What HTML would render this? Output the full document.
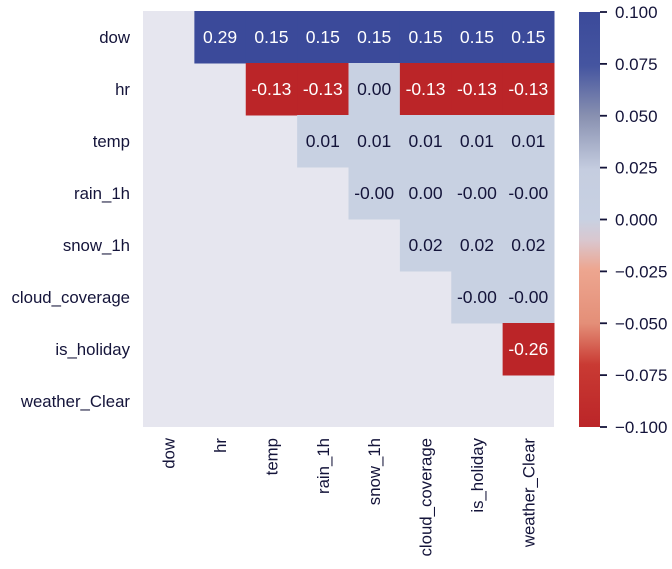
<!DOCTYPE html>
<html><head><meta charset="utf-8"><style>
body{margin:0;background:#fff;font-family:"Liberation Sans",sans-serif;}
svg text{font-family:"Liberation Sans",sans-serif;}
</style></head><body>
<svg id="chart" width="672" height="564" xmlns="http://www.w3.org/2000/svg">
<defs>
<linearGradient id="cbar" x1="0" y1="1" x2="0" y2="0">
<stop offset="0" stop-color="#bb2528"/>
<stop offset="0.15" stop-color="#c93a33"/>
<stop offset="0.25" stop-color="#e48f78"/>
<stop offset="0.38" stop-color="#eda690"/>
<stop offset="0.45" stop-color="#d9c7cf"/>
<stop offset="0.5" stop-color="#c8d1e2"/>
<stop offset="0.62" stop-color="#c5cde0"/>
<stop offset="0.75" stop-color="#8890b0"/>
<stop offset="0.87" stop-color="#4555a0"/>
<stop offset="1" stop-color="#3b4a9a"/>
</linearGradient>
</defs>
<rect x="143" y="11" width="411" height="416" fill="#e6e6ef"/>
<g id="cells"></g>
<g id="ylabels"></g>
<g id="xlabels"></g>
<rect x="579" y="12" width="21" height="415" fill="url(#cbar)"/>
<g id="cbticks"></g>
</svg>
<script>
const labels = ["dow","hr","temp","rain_1h","snow_1h","cloud_coverage","is_holiday","weather_Clear"];
const cellRows = [0,0,0,0,0,0,0, 1,1,1,1,1,1, 2,2,2,2,2, 3,3,3,3, 4,4,4, 5,5, 6];
const cellCols = [1,2,3,4,5,6,7, 2,3,4,5,6,7, 3,4,5,6,7, 4,5,6,7, 5,6,7, 6,7, 7];
const cellVals = [0.29,0.15,0.15,0.15,0.15,0.15,0.15, -0.13,-0.13,0.00,-0.13,-0.13,-0.13, 0.01,0.01,0.01,0.01,0.01, -0.001,0.00,-0.001,-0.001, 0.02,0.02,0.02, -0.001,-0.001, -0.26];
const cbTicks = [0.1,0.075,0.05,0.025,0,-0.025,-0.05,-0.075,-0.1];

const NS="http://www.w3.org/2000/svg";
const x0=143,y0=11,cw=411/8,rh=416/8;
const xPos=i=>x0+i*cw, yPos=i=>y0+i*rh;
const cbY=v=>12+(0.1-v)/0.2*415;
function color(v){
  if(v>=0.075) return "#3b4a9a";
  if(v>=0.05) return "#8890b0";
  if(v>-0.025) return "#c8d1e2";
  if(v>-0.075) return "#e48f78";
  return "#bb2528";
}
function mk(tag,attrs){const e=document.createElementNS(NS,tag);for(const k in attrs)e.setAttribute(k,attrs[k]);return e;}
const cells=document.getElementById('cells');
cellVals.forEach((v,i)=>{
  const r=cellRows[i],c=cellCols[i];
  const rect=mk('rect',{x:xPos(c),y:yPos(r),width:cw+0.5,height:rh+0.5,fill:color(v)});
  
  
  cells.appendChild(rect);
  const t=mk('text',{x:xPos(c)+cw/2,y:yPos(r)+rh/2+6,'text-anchor':'middle','font-size':17.5,fill:(Math.abs(v)>0.05?'#fff':'#14143a')});
  let s=v.toFixed(2); if(v<0&&s==="0.00") s="-0.00";
  t.textContent=s;
  
  
  cells.appendChild(t);
});
const yl=document.getElementById('ylabels'),xl=document.getElementById('xlabels');
labels.forEach((l,i)=>{
  const t=mk('text',{x:130,y:yPos(i)+rh/2+6,'text-anchor':'end','font-size':16.8,fill:'#14143a'});
  t.textContent=l;
  
  
  yl.appendChild(t);
  const cx=xPos(i)+cw/2+6;
  const u=mk('text',{x:cx,y:438,'text-anchor':'end','font-size':16.8,fill:'#14143a',transform:`rotate(-90 ${cx} 438)`});
  u.textContent=l;
  
  
  xl.appendChild(u);
});
const cb=document.getElementById('cbticks');
cbTicks.forEach(v=>{
  const y=cbY(v);
  const ln=mk('line',{x1:600,x2:607,y1:y,y2:y,stroke:'#14143a','stroke-width':1.8});
  
  
  cb.appendChild(ln);
  const t=mk('text',{x:615,y:y+6,'font-size':17,fill:'#14143a'});
  t.textContent=(v<0?'\u2212':'')+Math.abs(v).toFixed(3);
  
  
  cb.appendChild(t);
});
</script>
</body></html>
